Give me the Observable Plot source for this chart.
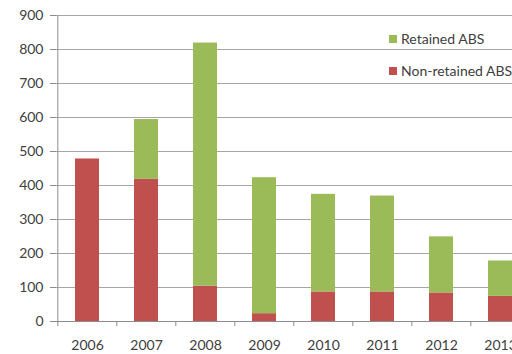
<!DOCTYPE html>
<html>
<head>
<meta charset="utf-8">
<script src="https://cdn.jsdelivr.net/npm/d3@7"></script>
<script src="https://cdn.jsdelivr.net/npm/@observablehq/plot@0.6"></script>
<style>
  html, body { margin: 0; padding: 0; background: #fff; overflow: hidden; width: 512px; height: 354px; }
  #wrap { position: relative; width: 512px; height: 354px; overflow: hidden; }
  #chart { position: absolute; left: 0; top: 0; width: 540px; }
  #chart svg { display: block; max-width: none !important; }
  .legend { position: absolute; left: 389px; top: 0; font: 14px Lato, sans-serif; color: #404040; white-space: nowrap; }
  .legend .item { position: absolute; left: 0; display: flex; align-items: center; }
  .legend .sw { width: 8px; height: 8px; margin-right: 4px; display: inline-block; }
</style>
</head>
<body>
<div id="wrap">
  <div id="chart"></div>
  <div class="legend" id="legend"></div>
</div>
<script>
const years = ["2006","2007","2008","2009","2010","2011","2012","2013"];
const nonRetained = [478, 418, 104, 23, 87, 87, 84, 74];
const retained = [0, 176, 715, 400, 287, 282, 165, 104];
const seriesNames = ["Non-retained ABS", "Retained ABS"];
const seriesColors = ["#C0504D", "#9BBB59"];
const yTicks = [0,100,200,300,400,500,600,700,800,900];

const rows = [];
years.forEach((yr, i) => {
  rows.push({year: yr, series: seriesNames[0], value: nonRetained[i]});
  rows.push({year: yr, series: seriesNames[1], value: retained[i]});
});

const W = 540, H = 354, mL = 56, mR = 9;
const step = (W - mL - mR) / years.length;

const chart = Plot.plot({
  width: W,
  height: H,
  marginTop: 15,
  marginBottom: 33,
  marginLeft: mL,
  marginRight: mR,
  style: {fontFamily: "Lato, sans-serif", fontSize: "14px", color: "#404040", background: "#fff", maxWidth: "none"},
  x: {domain: years, paddingInner: 0.6, paddingOuter: 0.3, align: 0.5, label: null, tickSize: 0, tickPadding: 12},
  y: {domain: [0, 900], ticks: yTicks, label: null, tickSize: 6, tickPadding: 7},
  color: {domain: seriesNames, range: seriesColors},
  marks: [
    Plot.gridY(yTicks.filter(d => d > 0), {stroke: "#a6a6a6", strokeOpacity: 1, strokeWidth: 1.2}),
    Plot.barY(rows, Plot.stackY({x: "year", y: "value", fill: "series", order: seriesNames})),
    Plot.axisY({ticks: yTicks, tickSize: 6, tickPadding: 7, stroke: "#8c8c8c", fill: "#404040", label: null}),
    Plot.ruleX([0], {x: () => years[0], y1: 0, y2: 900, dx: -step / 2, stroke: "#8c8c8c"}),
    Plot.ruleY([0], {stroke: "#8c8c8c"}),
    Plot.ruleX(years, {x: d => d, y1: 0, y2: -15, dx: -step / 2, stroke: "#8c8c8c"}),
    Plot.axisX({tickSize: 0, tickPadding: 19, fill: "#404040", label: null})
  ]
});
document.getElementById("chart").appendChild(chart);

const legend = document.getElementById("legend");
const legendItems = [{name: "Retained ABS", color: seriesColors[1], top: 30}, {name: "Non-retained ABS", color: seriesColors[0], top: 62}];
legendItems.forEach(it => {
  const d = document.createElement("div");
  d.className = "item";
  d.style.top = it.top + "px";
  d.innerHTML = `<span class="sw" style="background:${it.color}"></span><span>${it.name}</span>`;
  legend.appendChild(d);
});
</script>
</body>
</html>
